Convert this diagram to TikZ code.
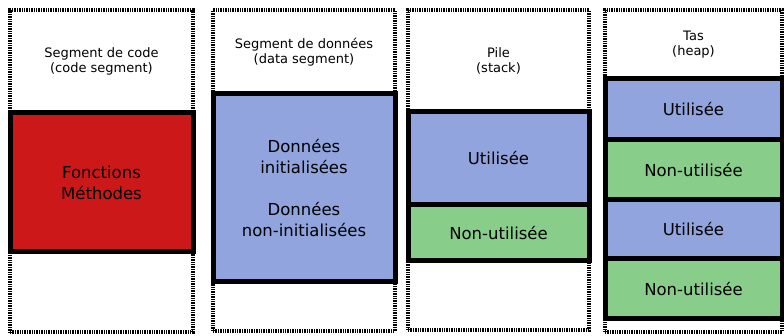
\documentclass[tikz,border=0pt]{standalone}
\usepackage{fontspec}
\setmainfont{DejaVu Sans}
\usetikzlibrary{positioning}
\definecolor{segred}{RGB}{204,24,24}
\definecolor{usedblue}{RGB}{145,164,221}
\definecolor{freegreen}{RGB}{136,205,138}

\begin{document}
\begin{tikzpicture}[x=1pt, y=1pt, node distance=0pt,
    every node/.style={outer sep=0pt, inner sep=0pt, align=center},
    segzone/.style={draw=black, line width=3.5pt, dash pattern=on 1.4pt off 1pt,
      font=\fontsize{13}{15.5}\selectfont},
    membox/.style={draw=black, line width=5pt, font=\fontsize{16.5}{21}\selectfont},
    used/.style={membox, fill=usedblue},
    free/.style={membox, fill=freegreen}]

  \useasboundingbox (0,0) rectangle (784,-336);

  % segment de code
  \node [segzone, anchor=north west, minimum width=183pt, minimum height=103pt]
    (codehead) at (10,-10) {Segment de code\\(code segment)};
  \node [membox, fill=segred, minimum width=183pt, minimum height=139pt,
    below=of codehead] (code) {Fonctions\\Méthodes};
  \node [segzone, minimum width=183pt, minimum height=80pt, below=of code] (coderest) {};

  % segment de donnees
  \node [segzone, anchor=north west, minimum width=182pt, minimum height=84pt]
    (datahead) at (213,-10) {Segment de données\\(data segment)};
  \node [used, minimum width=182pt, minimum height=188pt, below=of datahead]
    (data) {Données\\initialisées\\[21pt]Données\\non-initialisées};
  \node [segzone, minimum width=182pt, minimum height=49pt, below=of data] (datarest) {};

  % pile
  \node [segzone, anchor=north west, minimum width=181pt, minimum height=102pt]
    (pilehead) at (408,-10) {Pile\\(stack)};
  \node [used, minimum width=181pt, minimum height=93pt, below=of pilehead] (pileused) {Utilisée};
  \node [free, minimum width=181pt, minimum height=56pt, below=of pileused] (pilefree) {Non-utilisée};
  \node [segzone, minimum width=181pt, minimum height=69pt, below=of pilefree] (pilerest) {};

  % tas
  \node [segzone, anchor=north west, minimum width=177pt, minimum height=69pt]
    (tashead) at (605,-10) {Tas\\(heap)};
  \node [used, minimum width=177pt, minimum height=61pt, below=of tashead] (tasuseda) {Utilisée};
  \node [free, minimum width=177pt, minimum height=60pt, below=of tasuseda] (tasfreea) {Non-utilisée};
  \node [used, minimum width=177pt, minimum height=59pt, below=of tasfreea] (tasusedb) {Utilisée};
  \node [free, minimum width=177pt, minimum height=60pt, below=of tasusedb] (tasfreeb) {Non-utilisée};
  \node [segzone, minimum width=177pt, minimum height=13pt, below=of tasfreeb] (tasrest) {};
\end{tikzpicture}
\end{document}
